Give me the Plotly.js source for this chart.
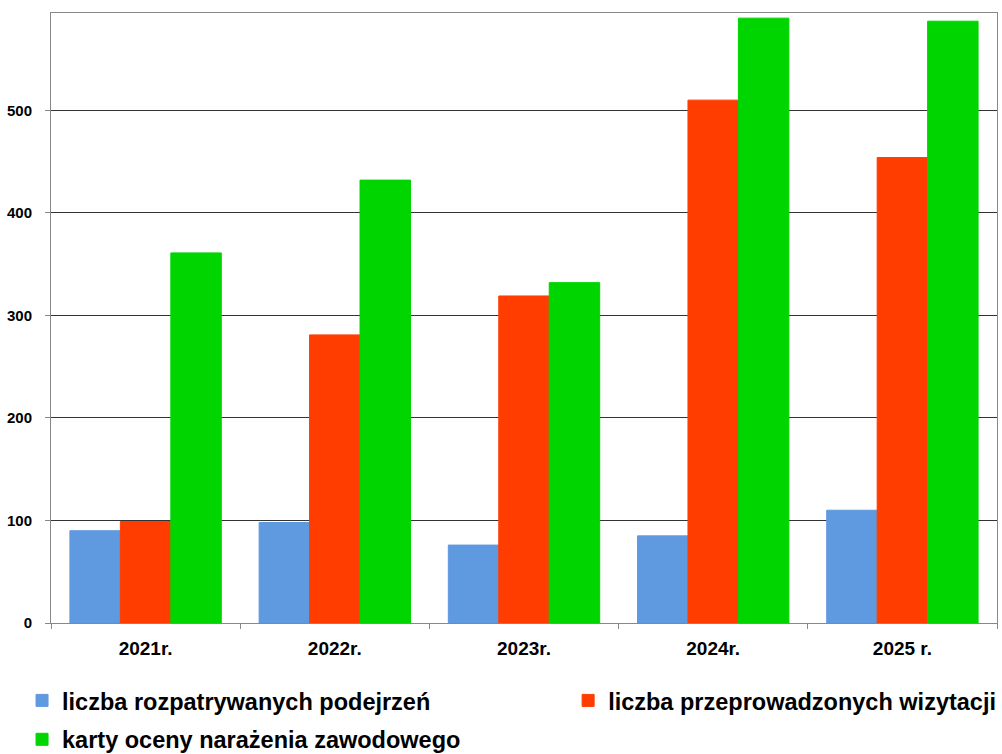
<!DOCTYPE html>
<html>
<head>
<meta charset="utf-8">
<script src="https://cdn.plot.ly/plotly-3.0.1.min.js"></script>
<style>html,body{margin:0;padding:0;background:#fff;}#chart{width:1002px;height:754px;}</style>
</head>
<body>
<div id="chart"></div>
<script>
const categories = ["2021r.", "2022r.", "2023r.", "2024r.", "2025 r."];
const seriesNames = ["liczba rozpatrywanych podejrzeń", "liczba przeprowadzonych wizytacji", "karty oceny narażenia zawodowego"];
const podejrzenia = [90, 98, 76, 85, 110];
const wizytacje = [99, 281, 319, 510, 454];
const karty = [361, 432, 332, 590, 587];
const yTicks = [0, 100, 200, 300, 400, 500];
const colors = ["#5F99E0", "#FF3D00", "#00D500"];

const values = [podejrzenia, wizytacje, karty];
const legendFor = ["legend", "legend2", "legend3"];
const traces = values.map((v, i) => ({
  type: "bar",
  name: seriesNames[i],
  x: categories,
  y: v,
  legend: legendFor[i],
  marker: {color: colors[i], line: {width: 1, color: colors[i]}},
  hoverinfo: "x+y+name"
}));

const legendFont = {size: 23.5, family: "Liberation Sans, Arial, sans-serif", weight: "bold", color: "#000"};
function legendAt(x, y) {
  return {
    orientation: "h",
    xref: "container",
    yref: "container",
    x: x,
    xanchor: "left",
    y: y,
    yanchor: "top",
    itemwidth: 30,
    font: legendFont,
    bgcolor: "rgba(0,0,0,0)"
  };
}

const layout = {
  width: 1002,
  height: 754,
  margin: {l: 51, r: 5, t: 13, b: 131},
  paper_bgcolor: "#fff",
  plot_bgcolor: "#fff",
  barmode: "group",
  bargap: 0.2,
  bargroupgap: 0,
  showlegend: true,
  font: {family: "Liberation Sans, Arial, sans-serif", color: "#000"},
  xaxis: {
    type: "category",
    showline: true,
    linecolor: "#888",
    linewidth: 1,
    mirror: true,
    ticks: "outside",
    tickson: "boundaries",
    ticklen: 5,
    tickcolor: "#888",
    showgrid: false,
    tickangle: 0,
    tickfont: {size: 19, family: "Liberation Sans, Arial, sans-serif", weight: "bold"},
    ticklabelstandoff: 8
  },
  yaxis: {
    range: [0, 595],
    tickvals: yTicks,
    ticktext: yTicks.map(String),
    showline: true,
    linecolor: "#888",
    linewidth: 1,
    mirror: true,
    ticks: "outside",
    ticklen: 5,
    tickcolor: "#888",
    showgrid: true,
    gridcolor: "#333",
    gridwidth: 1,
    zeroline: false,
    tickfont: {size: 15, family: "Liberation Sans, Arial, sans-serif", weight: "bold"},
    ticklabelstandoff: 10
  },
  legend: legendAt(0.022, 0.1),
  legend2: legendAt(0.567, 0.1),
  legend3: legendAt(0.022, 0.0484)
};

Plotly.newPlot("chart", traces, layout, {displayModeBar: false, staticPlot: true});
</script>
</body>
</html>
